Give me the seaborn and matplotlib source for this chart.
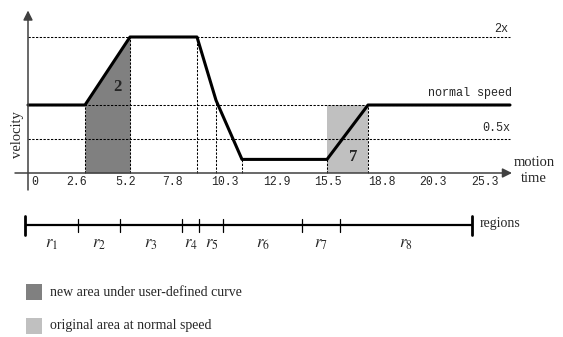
import numpy as np
import pandas as pd
import matplotlib
matplotlib.use("Agg")
import matplotlib.pyplot as plt
from matplotlib.patches import Rectangle
import seaborn as sns

# ---- data ----
curve_t = [0, 57, 102, 169, 188, 214, 299, 340, 482]        # schematic time positions
curve_v = [1, 1, 2, 2, 1.07, 0.2, 0.2, 1, 1]                # velocity (multiples of normal)
speed_levels = [2, 1, 0.5]
speed_labels = ["2x", "normal speed", "0.5x"]
time_labels = ["0", "2.6", "5.2", "7.8", "10.3", "12.9", "15.5", "18.8", "20.3", "25.3"]
region_labels = [r"$r_{%d}$" % i for i in range(1, 9)]
legend_labels = ["new area under user-defined curve", "original area at normal speed"]
area_labels = ["2", "7"]

# ---- style ----
sns.set_style("white")
plt.rcParams["mathtext.fontset"] = "stix"
SERIF = ["Liberation Serif", "DejaVu Serif"]
MONO = ["Liberation Mono", "DejaVu Sans Mono"]
DARK = "#808080"
LIGHT = "#c0c0c0"
AXC = "#404040"

W, H = 563, 337
fig = plt.figure(figsize=(W / 100, H / 100), dpi=100)

def frac(x0, y0, x1, y1):
    return [x0 / W, (H - y1) / H, (x1 - x0) / W, (y1 - y0) / H]

# overlay axes in pixel coords
axf = fig.add_axes([0, 0, 1, 1])
axf.set_xlim(0, W)
axf.set_ylim(H, 0)
axf.axis("off")

# main chart axes: origin at px (28,173); 1 time unit = 1 px, 68 px per velocity unit
ax = fig.add_axes(frac(10, 10, 560, 193))
ax.set_xlim(-18, 532)
ax.set_ylim((173 - 193) / 68, (173 - 10) / 68)
ax.axis("off")

dot = (0, (2.2, 1.4))
# reference speed levels
for lv in speed_levels:
    ax.plot([0, 482], [lv, lv], color="black", lw=0.75, ls=dot, zorder=2)

# shaded areas
ax.fill_between(curve_t[1:3], 0, curve_v[1:3], color=DARK, lw=0, zorder=1)
ax.fill_between(curve_t[6:8], 0, speed_levels[1], color=LIGHT, lw=0, zorder=1)

# vertical dotted lines at region boundaries
for tt, vv in zip(curve_t[1:-1], curve_v[1:-1]):
    ax.plot([tt, tt], [0, vv], color="black", lw=0.75, ls=dot, zorder=2)

# curve
df = pd.DataFrame({"t": curve_t, "v": curve_v})
sns.lineplot(data=df, x="t", y="v", ax=ax, color="black", lw=2.2, sort=False,
             estimator=None, zorder=4)
ax.set_xlim(-18, 532)
ax.set_ylim((173 - 193) / 68, (173 - 10) / 68)
ax.axis("off")

# axes arrows
ax.annotate("", xy=(484, 0), xytext=(-13, 0), annotation_clip=False,
            arrowprops=dict(arrowstyle="-|>", color=AXC, lw=1.1, mutation_scale=14,
                            shrinkA=0, shrinkB=0), zorder=5)
ax.annotate("", xy=(0, 2.39), xytext=(0, -0.25), annotation_clip=False,
            arrowprops=dict(arrowstyle="-|>", color=AXC, lw=1.1, mutation_scale=14,
                            shrinkA=0, shrinkB=0), zorder=5)

# area labels
ax.text(89, 1.26, area_labels[0], family=SERIF, fontsize=12, fontweight="bold",
        ha="center", va="center", zorder=6)
ax.text(325, 0.235, area_labels[1], family=SERIF, fontsize=12, fontweight="bold",
        ha="center", va="center", zorder=6)

# speed labels
for lab, (tx, ty) in zip(speed_labels, [(480, 2.12), (484, 1.18), (482, 0.66)]):
    ax.text(tx, ty, lab, family=MONO, fontsize=8.5, ha="right", va="center")

# time tick labels
tick_px = [35, 77, 126, 172, 225, 277, 328, 382, 433, 485]
for lab, px in zip(time_labels, tick_px):
    ax.text(px - 28, -0.13, lab, family=MONO, fontsize=8.3, ha="center", va="center")

# axis titles
axf.text(18, 135, "velocity", family=SERIF, fontsize=10.5, rotation=90,
         ha="center", va="center")
axf.text(534, 163, "motion", family=SERIF, fontsize=10.5, ha="center", va="center")
axf.text(534, 178, "time", family=SERIF, fontsize=10.5, ha="center", va="center")

# regions bar
ax2 = fig.add_axes(frac(25, 205, 472, 260))
ax2.set_xlim(0, 482)
ax2.set_ylim(260, 205)
ax2.axis("off")
ax2.plot([curve_t[0], curve_t[-1]], [225, 225], color="black", lw=1.6,
         solid_capstyle="butt")
for tt in curve_t[1:-1]:
    ax2.plot([tt, tt], [218.5, 232], color="black", lw=0.9)
for tt in (curve_t[0], curve_t[-1]):
    ax2.plot([tt, tt], [216, 235], color="black", lw=2.0, clip_on=False)
for i, lab in enumerate(region_labels):
    mid = (curve_t[i] + curve_t[i + 1]) / 2
    ax2.text(mid, 243, lab, fontsize=12, ha="center", va="center")
axf.text(480, 223, "regions", family=SERIF, fontsize=10, ha="left", va="center")

# legend
for (y0, col, lab) in [(284, DARK, legend_labels[0]), (318, LIGHT, legend_labels[1])]:
    axf.add_patch(Rectangle((26, y0), 16, 16, facecolor=col, edgecolor="none"))
    axf.text(50, y0 + 8, lab, family=SERIF, fontsize=10, ha="left", va="center")

fig.savefig("out.png", dpi=100)
